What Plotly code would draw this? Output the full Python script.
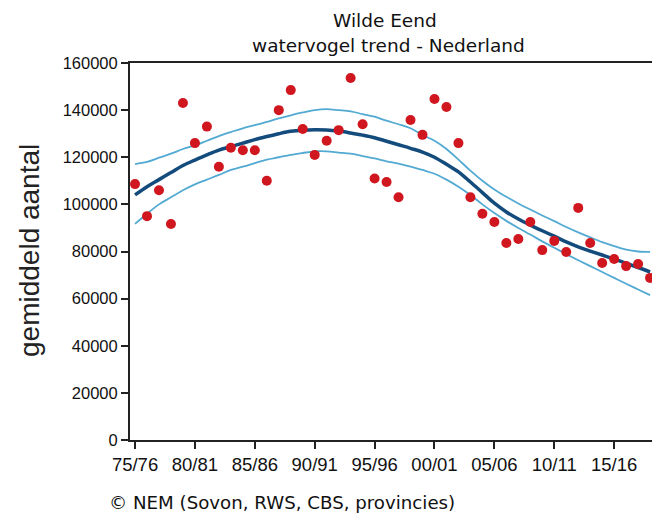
import plotly.graph_objects as go

# ---- data ----
years = list(range(1975, 2019))
counts = [108600, 95000, 106000, 91700, 143000, 126000, 133000, 116000, 124000, 123000,
          123000, 110000, 140000, 148500, 132000, 121000, 127000, 131500, 153600, 134000,
          111000, 109500, 103000, 135800, 129500, 144700, 141300, 126000, 103000, 96000,
          92500, 83600, 85300, 92500, 80600, 84500, 79800, 98500, 83600, 75100,
          76800, 73800, 74700, 68800]
trend = [104000, 107500, 110500, 113500, 116500, 118800, 121000, 123000, 124500, 126000,
         127500, 128800, 130000, 131000, 131500, 131700, 131600, 131100, 130300, 129400,
         128300, 126800, 125300, 123800, 122200, 120000, 117000, 113800, 109500, 105000,
         100500, 96800, 93800, 91200, 88800, 86500, 84100, 82000, 80200, 78500,
         76800, 75000, 73200, 71300]
upper = [117100, 118000, 119800, 121500, 123500, 125000, 127000, 129000, 130700, 132300,
         133600, 135000, 136500, 137800, 139000, 140000, 140400, 140000, 139500, 138300,
         137200, 135500, 134000, 132300, 129400, 127000, 123500, 119000, 114300, 110000,
         106300, 103200, 100400, 97800, 95300, 92900, 90400, 88100, 86000, 84000,
         82300, 80800, 80000, 79800]
lower = [91700, 96000, 100000, 103000, 106000, 108500, 110500, 112500, 114600, 116000,
         117500, 119000, 120000, 121000, 121800, 122500, 122500, 122000, 121500, 120500,
         119500, 118300, 117300, 116000, 114600, 113000, 110500, 107500, 104000, 100000,
         96300, 93000, 90000, 87200, 84300, 81600, 78900, 76300, 73800, 71300,
         68800, 66300, 63900, 61500]
tick_years = [1975, 1980, 1985, 1990, 1995, 2000, 2005, 2010, 2015]
tick_labels = ["75/76", "80/81", "85/86", "90/91", "95/96", "00/01", "05/06", "10/11", "15/16"]
y_ticks = [0, 20000, 40000, 60000, 80000, 100000, 120000, 140000, 160000]

title_line1 = "Wilde Eend"
title_line2 = "watervogel trend - Nederland"
y_title = "gemiddeld aantal"
footer = "© NEM (Sovon, RWS, CBS, provincies)"

W, H = 652, 514
ML, MR, MT, MB = 130, 0, 63, 74
pw = W - ML - MR
ph = H - MT - MB

ci_color = "#52aad3"
trend_color = "#134b7c"
dot_color = "#d0161e"

fig = go.Figure()
for band in (upper, lower):
    fig.add_trace(go.Scatter(x=years, y=band, mode="lines",
                             line=dict(color=ci_color, width=1.8, shape="spline"),
                             hoverinfo="skip", showlegend=False))
fig.add_trace(go.Scatter(x=years, y=trend, mode="lines",
                         line=dict(color=trend_color, width=3.5, shape="spline"),
                         showlegend=False))
fig.add_trace(go.Scatter(x=years, y=counts, mode="markers",
                         marker=dict(color=dot_color, size=10, line=dict(width=0)),
                         showlegend=False))

fig.update_layout(
    width=W, height=H,
    margin=dict(l=ML, r=MR, t=MT, b=MB, autoexpand=False),
    paper_bgcolor="white", plot_bgcolor="white",
    showlegend=False,
    xaxis=dict(range=[1974.58, 2018.16], tickvals=tick_years, ticktext=tick_labels,
               automargin=False,
               showgrid=False, zeroline=False, showline=True, linecolor="#222222",
               linewidth=2, mirror=True, ticks="outside", ticklen=7, tickwidth=1.5,
               tickcolor="#222222",
               tickfont=dict(family="Liberation Sans, Arial", size=18.5, color="#111111")),
    yaxis=dict(range=[0, 160000], tickvals=y_ticks, tickformat="d",
               automargin=False,
               showgrid=False, zeroline=False, showline=True, linecolor="#222222",
               linewidth=2, ticks="outside", ticklen=7, tickwidth=1.5,
               tickcolor="#222222",
               tickfont=dict(family="Liberation Sans, Arial", size=16.5, color="#111111")),
)

def px_x(px):
    return (px - ML) / pw

def px_y(py):
    return (H - MB - py) / ph

fig.add_annotation(text=title_line1, xref="paper", yref="paper", x=px_x(385), y=px_y(21),
                   showarrow=False, xanchor="center", yanchor="middle",
                   font=dict(family="DejaVu Sans", size=18.5, color="#111111"))
fig.add_annotation(text=title_line2, xref="paper", yref="paper", x=px_x(388), y=px_y(46),
                   showarrow=False, xanchor="center", yanchor="middle",
                   font=dict(family="DejaVu Sans", size=18.5, color="#111111"))
fig.add_annotation(text=y_title, xref="paper", yref="paper", x=px_x(29), y=px_y(251),
                   showarrow=False, xanchor="center", yanchor="middle", textangle=-90,
                   font=dict(family="Liberation Sans, Arial", size=28, color="#222222"))
fig.add_annotation(text=footer, xref="paper", yref="paper", x=px_x(107), y=px_y(502),
                   showarrow=False, xanchor="left", yanchor="middle",
                   font=dict(family="DejaVu Sans", size=18.2, color="#111111"))

# remove the browser's default page margin so the figure sits at the window corner
fig.write_html("out.html",
               config={"displayModeBar": False},
               post_script="document.body.style.margin='0';document.body.style.overflow='hidden';")
